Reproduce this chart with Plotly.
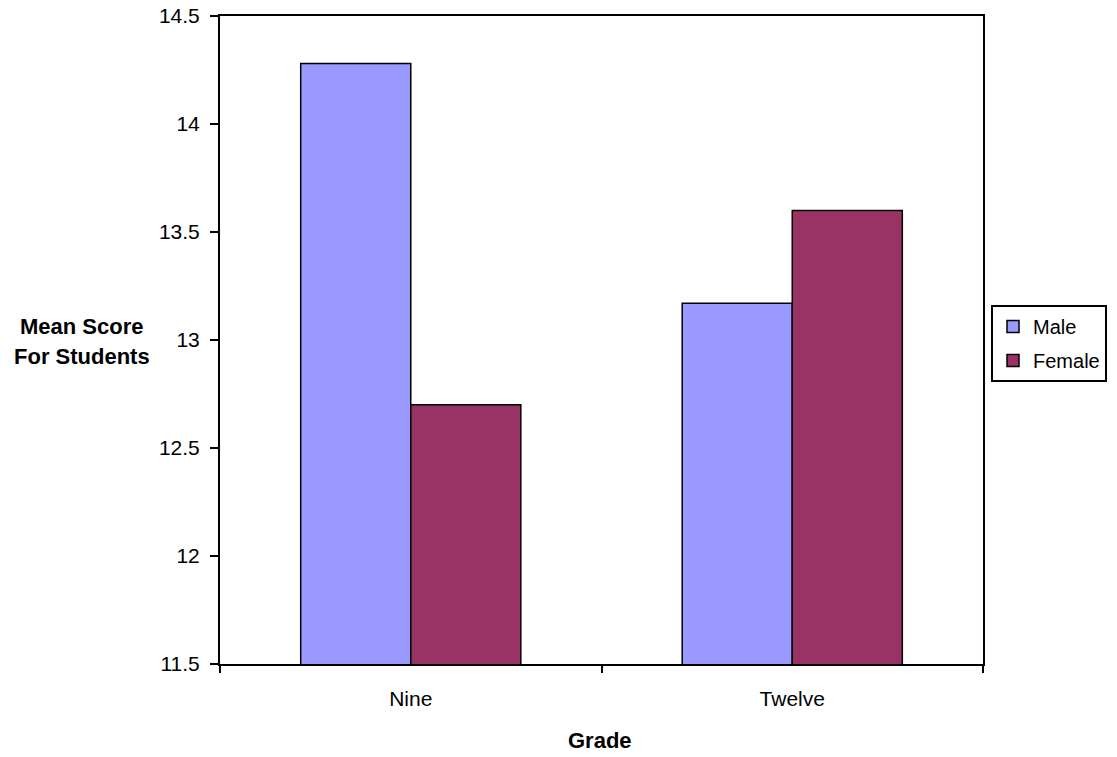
import plotly.graph_objects as go

grades = ["Nine", "Twelve"]
male = [14.28, 13.17]
female = [12.70, 13.60]
y_ticks = [11.5, 12, 12.5, 13, 13.5, 14, 14.5]
y_tick_labels = ["11.5", "12", "12.5", "13", "13.5", "14", "14.5"]

FONT = "Liberation Sans, Arial, sans-serif"

fig = go.Figure()
fig.add_trace(go.Bar(name="Male", x=grades, y=male, legendgroup="m",
                     marker=dict(color="#9999FF", line=dict(color="black", width=1.5))))
fig.add_trace(go.Bar(name="Female", x=grades, y=female, legendgroup="f",
                     marker=dict(color="#993366", line=dict(color="black", width=1.5))))

fig.update_layout(
    width=1117, height=757,
    margin=dict(l=220, r=134, t=16, b=93, autoexpand=False),
    paper_bgcolor="white", plot_bgcolor="white",
    barmode="group", bargap=0.423, bargroupgap=0,
    font=dict(family=FONT, size=21, color="black"),
    legend=dict(x=1.0105, y=0.554, xanchor="left", yanchor="top",
                bordercolor="black", borderwidth=2, bgcolor="white",
                font=dict(size=20), traceorder="grouped", tracegroupgap=5),
    xaxis=dict(showline=True, linecolor="black", linewidth=2, mirror=True,
               ticks="outside", tickson="boundaries", ticklen=7, tickcolor="black", tickwidth=2,
               ticklabelstandoff=15, showgrid=False, automargin=False),
    yaxis=dict(range=[11.5, 14.5], tickvals=y_ticks, ticktext=y_tick_labels,
               showline=True, linecolor="black", linewidth=2, mirror=True,
               ticks="outside", ticklen=8, tickcolor="black", tickwidth=2,
               ticklabelstandoff=6, ticklabeloverflow="allow", automargin=False,
               showgrid=False, zeroline=False),
    annotations=[
        dict(text="<b>Mean Score</b>", xref="paper", yref="paper",
             x=-0.1809, y=0.5216, xanchor="center", yanchor="middle", showarrow=False,
             font=dict(size=22)),
        dict(text="<b>For Students</b>", xref="paper", yref="paper",
             x=-0.1809, y=0.4738, xanchor="center", yanchor="middle", showarrow=False,
             font=dict(size=22)),
        dict(text="<b>Grade</b>", xref="paper", yref="paper",
             x=0.498, y=-0.1173, xanchor="center", yanchor="middle", showarrow=False,
             font=dict(size=22)),
    ],
)

fig.write_html("out.html",
               config={"displayModeBar": False},
               post_script="document.body.style.margin='0';document.body.style.overflow='hidden';")
